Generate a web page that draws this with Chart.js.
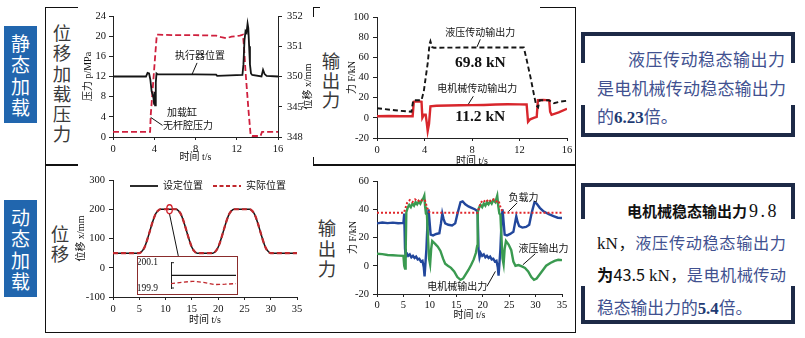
<!DOCTYPE html>
<html>
<head>
<meta charset="utf-8">
<script src="https://cdn.jsdelivr.net/npm/chart.js@4.4.1/dist/chart.umd.min.js"></script>
<style>
  body { margin: 0; background: #fff; }
  #page { position: relative; width: 805px; height: 338px; overflow: hidden; font-family: "Noto Sans CJK SC", sans-serif; }
  .ln { position: absolute; background: #111; }
  .cv { position: absolute; }
  .tag { position: absolute; left: 4px; width: 33px; height: 97px; box-sizing: border-box; padding-top: 5.5px;
         background: #2166ae; color: #fff; font-size: 19px; line-height: 21.5px; text-align: center; }
  .vlab { position: absolute; width: 24px; text-align: center; font-size: 18.5px; line-height: 20.3px; color: #3a3a3a; }
  .br { position: absolute; background: #1d2a47; }
  .note { position: absolute; left: 597px; color: #415190; }
  .nl { width: 189px; overflow: hidden; text-align: justify; text-align-last: justify; }
  .nl.last { text-align-last: left; }
  .ser { font-family: "Liberation Serif", serif; }
  .k { color: #111; }
  .nb { font-family: "Liberation Serif", serif; font-weight: bold; color: #1f3b73; }
  #inset { position: absolute; left: 137px; top: 256px; width: 101px; height: 39px; box-sizing: border-box;
           border: 1px solid #8a2c2c; background: #fff; }
  #c5 { position: absolute; left: 0; top: 0; }
</style>
</head>
<body>
<div id="page">
  <!-- frame -->
  <div class="ln" style="left:45px;top:7px;width:1px;height:326px"></div>
  <div class="ln" style="left:575px;top:7px;width:1px;height:326px"></div>
  <div class="ln" style="left:45px;top:7px;width:33px;height:1px"></div>
  <div class="ln" style="left:313px;top:7px;width:7px;height:1px"></div>
  <div class="ln" style="left:313px;top:7px;width:1px;height:10px"></div>
  <div class="ln" style="left:540px;top:7px;width:36px;height:1px"></div>
  <div class="ln" style="left:45px;top:164px;width:33px;height:1.5px"></div>
  <div class="ln" style="left:313px;top:157px;width:1px;height:8px"></div>
  <div class="ln" style="left:313px;top:164px;width:263px;height:1.5px"></div>
  <div class="ln" style="left:45px;top:332px;width:531px;height:1px"></div>

  <div class="tag" style="top:26px">静<br>态<br>加<br>载</div>
  <div class="tag" style="top:200px">动<br>态<br>加<br>载</div>

  <div class="vlab" style="left:50px;top:22px">位<br>移<br>加<br>载<br>压<br>力</div>
  <div class="vlab" style="left:319px;top:51px;line-height:19.5px">输<br>出<br>力</div>
  <div class="vlab" style="left:48px;top:223px">位<br>移</div>
  <div class="vlab" style="left:315px;top:217px;line-height:20.5px">输<br>出<br>力</div>

  <!-- right text boxes -->
  <div class="br" style="left:581px;top:32px;width:214px;height:4px"></div>
  <div class="br" style="left:581px;top:32px;width:4px;height:31px"></div>
  <div class="br" style="left:791px;top:32px;width:4px;height:31px"></div>
  <div class="br" style="left:581px;top:133px;width:214px;height:4px"></div>
  <div class="br" style="left:581px;top:105px;width:4px;height:32px"></div>
  <div class="br" style="left:791px;top:105px;width:4px;height:32px"></div>
  <div class="note" style="top:45px;font-size:17px;line-height:28.7px">
    <div class="nl" style="padding-left:31px;width:157px">液压传动稳态输出力</div>
    <div class="nl">是电机械传动稳态输出力</div>
    <div class="nl last">的<span class="nb">6.23</span>倍。</div>
  </div>

  <div class="br" style="left:581px;top:183px;width:214px;height:4px"></div>
  <div class="br" style="left:581px;top:183px;width:4px;height:36px"></div>
  <div class="br" style="left:791px;top:183px;width:4px;height:36px"></div>
  <div class="br" style="left:581px;top:320px;width:214px;height:4px"></div>
  <div class="br" style="left:581px;top:286px;width:4px;height:38px"></div>
  <div class="br" style="left:791px;top:286px;width:4px;height:38px"></div>
  <div class="note" style="top:195px;font-size:16.2px;line-height:30.5px">
    <div class="nl last" style="padding-left:30px;width:159px;white-space:nowrap"><span style="font-weight:700;color:#111;font-size:15px">电机械稳态输出力</span><span class="ser k" style="font-size:18px;letter-spacing:2.5px;margin-left:2px">9.8</span></div>
    <div class="nl"><span class="ser k" style="font-size:17px">kN</span><span class="k">，</span>液压传动稳态输出力</div>
    <div class="nl"><span class="k" style="font-weight:700">为</span><span class="k">43.5 <span class="ser" style="font-size:17px">kN</span>，</span>是电机械传动</div>
    <div class="nl last" style="font-size:16.8px">稳态输出力的<span class="nb">5.4</span>倍。</div>
  </div>

  <div class="cv" style="left:78px;top:0;width:235px;height:166px"><canvas id="c1"></canvas></div>
  <div class="cv" style="left:340px;top:0;width:240px;height:168px"><canvas id="c2"></canvas></div>
  <div class="cv" style="left:70px;top:168px;width:243px;height:160px"><canvas id="c3"></canvas></div>
  <div class="cv" style="left:340px;top:168px;width:240px;height:154px"><canvas id="c4"></canvas></div>
  <div id="inset"><canvas id="c5" width="99" height="37" style="width:99px;height:37px"></canvas></div>
</div>

<script>
// ---------- 静态加载：位移 / 加载缸压力 ----------
const actuatorPos = [[0, 350.0], [3.2, 350.0], [3.35, 350.12], [3.5, 350.1], [3.62, 349.9], [3.75, 349.5],
  [3.85, 349.4], [3.92, 349.3], [3.98, 349.1], [4.03, 349.5], [4.08, 349.05], [4.15, 349.8], [4.22, 350.1],
  [4.35, 350.07], [6, 350.07], [8, 350.07], [10, 350.06], [10.1, 350.02], [12.55, 350.05], [12.65, 350.4],
  [12.75, 351.2], [12.85, 351.5], [12.95, 351.45], [13.05, 351.75], [13.12, 351.6], [13.2, 351.0],
  [13.28, 350.4], [13.38, 350.1], [13.5, 350.05], [14.4, 350.0], [14.55, 350.22], [14.7, 350.08],
  [14.9, 350.02], [16, 350.0]];
const cylinderPressure = [[0, 1.0], [3.6, 1.0], [3.66, 4.4], [3.75, 6.8], [3.9, 10.9], [4.1, 16.4],
  [4.25, 20.3], [4.4, 20.3], [6, 20.2], [8, 20.2], [10, 20.1], [10.5, 19.8], [11, 19.6], [11.5, 19.9],
  [12.3, 20.1], [12.6, 20.3], [12.7, 18], [12.85, 13], [13.0, 9], [13.15, 5], [13.35, 0.3], [13.5, 0.2],
  [14.3, 0.2], [14.45, 1.0], [16, 1.0]];
const posTickLabels = ['348', '345', '350', '351', '352'];

// ---------- 静态加载：输出力 ----------
const hydraulicOut = [[0, 9.5], [1.5, 7.5], [2.9, 6], [3.05, 17.5], [3.75, 17.5], [3.95, 27], [4.1, 40],
  [4.28, 55], [4.42, 73], [4.5, 76], [4.65, 70], [4.8, 69.5], [8, 69.8], [12.36, 69.8], [12.58, 58.8],
  [12.92, 40.6], [13.2, 24], [13.4, 12.5], [13.57, 10.5], [13.7, 17.5], [14.45, 17.5], [14.9, 14.5],
  [15.4, 16], [16, 17]];
const motorOut = [[0, 1.5], [1, 1.8], [2, 1.5], [3.0, 1.6], [3.1, 16], [3.4, 16.5], [3.75, 16], [3.82, 0],
  [3.95, 3], [4.1, 3], [4.18, -4], [4.27, -13], [4.38, -6], [4.5, 11.5], [5, 12], [6, 12.2], [7, 12.5],
  [8, 12.6], [9, 12.8], [10, 13.2], [11, 13.4], [12, 13.3], [12.6, 13.2], [12.72, -4], [12.9, -1.5],
  [13.2, 0], [13.45, 1], [13.55, 17.5], [14, 17.8], [14.5, 17.3], [14.58, 6], [14.7, 3], [15.3, 5.5], [16, 9]];

// ---------- 动态加载：位移 ----------
const setPosition = [[0, 50], [5, 50], [5.5, 56], [6, 70], [8, 180], [8.5, 194], [9, 200], [12, 200],
  [12.5, 194], [13, 180], [15, 70], [15.5, 56], [16, 50], [19, 50], [19.5, 56], [20, 70], [22, 180],
  [22.5, 194], [23, 200], [26, 200], [26.5, 194], [27, 180], [29, 70], [29.5, 56], [30, 50], [35, 50]];
const actualPosition = [[0, 50], [5, 50], [5.5, 56], [6, 70], [8, 180], [8.5, 194], [9, 200], [12, 200],
  [12.5, 194], [13, 180], [15, 70], [15.5, 56], [16, 50], [19, 50], [19.5, 56], [20, 70], [22, 180],
  [22.5, 194], [23, 200], [26, 200], [26.5, 194], [27, 180], [29, 70], [29.5, 56], [30, 50], [35, 50]];
const insetSet = [[0, 200.0], [6, 200.0]];
const insetActual = [[0, 199.935], [1, 199.945], [2, 199.953], [3, 199.945], [4, 199.927], [5, 199.93], [6, 199.935]];
const insetTicks = [199.9, 200.1];
const insetTickLabels = ['199.9', '200.1'];

// ---------- 动态加载：输出力 ----------
const loadForce = [[0, 37.5], [5.1, 37.5], [5.4, 41], [5.7, 44.5], [6.2, 46.5], [6.7, 45], [7.2, 47],
  [7.7, 45.5], [8.2, 47], [8.7, 45.5], [9.1, 46], [9.5, 41], [9.9, 38], [10.3, 37.5], [19.0, 37.5],
  [19.3, 41], [19.6, 44.5], [20.1, 46.5], [20.6, 45], [21.1, 47], [21.6, 45.5], [22.1, 47], [22.6, 45.5],
  [23.0, 46], [23.4, 41], [23.8, 38], [24.2, 37.5], [35, 37.5]];
const hydraulicForce = [[0, 8.5], [1, 8.2], [2, 7.6], [3, 7.4], [4, 7.2], [5.0, 7.0], [5.15, 0], [5.3, -2],
  [5.42, 10], [5.55, 38], [5.8, 41], [6.1, 43], [6.4, 41.5], [6.7, 44], [7.0, 42.5], [7.3, 45], [7.6, 43.5],
  [7.9, 45.5], [8.2, 44], [8.5, 46.5], [8.8, 48], [8.95, 49.5], [9.1, 42], [9.25, 37], [9.45, 36],
  [9.65, 20], [9.85, 5], [10.05, 1], [10.25, 12], [10.45, 17.5], [11, 15.5], [11.5, 13.5], [12, 10.5],
  [12.5, 5], [12.9, 1.5], [13.4, 0], [14, -1.5], [14.6, -4], [15.2, -8], [15.8, -10], [16.3, -9],
  [16.8, -6], [17.3, -3], [17.8, 0.5], [18.3, 4.5], [18.7, 9], [18.95, 14], [19.05, 38], [19.3, 41],
  [19.6, 43], [19.9, 41.5], [20.2, 44], [20.5, 42.5], [20.8, 45], [21.1, 43.5], [21.4, 45.5], [21.7, 44],
  [22.0, 46.5], [22.4, 45], [22.75, 49.5], [22.95, 42], [23.15, 37], [23.35, 36], [23.55, 20], [23.75, 5],
  [23.95, 1], [24.15, 12], [24.4, 17.5], [24.9, 15], [25.4, 11], [25.8, 3], [26.2, 0], [26.8, 0.5],
  [27.4, -0.5], [28, -1.5], [28.6, -4], [29.2, -8], [29.7, -10], [30.2, -9], [30.8, -6], [31.4, -3],
  [32, 0], [32.8, 2], [33.6, 3.5], [34.3, 4.2], [35, 4]];
const motorForce = [[0, 30], [1, 30.6], [2, 30.2], [3, 30.5], [4, 30.1], [5.0, 30.3], [5.15, 37], [5.3, 12],
  [5.45, 6], [5.6, 9], [5.9, 7], [6.2, 8], [6.5, 6], [6.8, 7], [7.1, 5.5], [7.4, 6.5], [7.7, 4.5], [8.0, 5],
  [8.3, 3], [8.6, 3.5], [8.85, -1], [9.0, -7.5], [9.15, 1], [9.35, 12], [9.55, 30], [9.75, 40], [9.95, 31],
  [10.15, 22], [10.6, 21.5], [11.2, 22.5], [11.8, 23], [12.1, 30], [12.35, 37], [12.6, 33], [12.9, 30],
  [13.5, 29], [14.2, 28.5], [14.8, 30], [15.3, 38], [15.8, 45], [16.2, 45.5], [16.7, 43.5], [17.3, 42],
  [17.9, 41], [18.5, 40], [18.9, 39], [19.05, 36], [19.2, 12], [19.4, 6], [19.6, 9], [19.9, 7], [20.2, 8],
  [20.5, 6], [20.8, 7], [21.1, 5.5], [21.4, 6.5], [21.7, 4.5], [22.0, 5], [22.3, 3], [22.6, 3.5],
  [22.85, -1], [23.0, -7], [23.15, 1], [23.35, 12], [23.55, 30], [23.75, 40], [23.95, 31], [24.15, 22],
  [24.6, 21.5], [25.2, 22.5], [25.8, 24], [26.1, 30], [26.35, 35], [26.6, 31], [26.9, 28], [27.5, 27],
  [28.2, 27.5], [28.8, 29], [29.3, 38], [29.8, 45], [30.2, 44], [30.8, 41], [31.5, 38.5], [32.5, 36.5],
  [33.5, 35], [34.2, 34], [35, 33.8]];

const FONT = '"Liberation Serif", "Noto Sans CJK SC", serif';
Chart.defaults.font.family = FONT;
Chart.defaults.font.size = 10.5;
Chart.defaults.color = '#111';
Chart.defaults.animation = false;

function axis(o) {
  const a = {
    type: 'linear', position: o.position, min: o.min, max: o.max,
    display: o.display === undefined ? true : o.display,
    afterFit: s => { if (o.width !== undefined) s.width = o.width; else s.height = o.height; },
    ticks: { stepSize: o.step, padding: o.pad, color: '#111', maxRotation: 0, autoSkip: false, font: { size: o.fontSize || 10.5 } },
    grid: { drawOnChartArea: false, drawTicks: o.tl > 0, tickLength: o.tl, color: '#222', tickColor: o.tickColor || '#222' },
    border: { display: true, color: '#222', width: 1 },
    title: { display: !!o.title, text: o.title, font: { size: 10 }, color: '#111', padding: o.titlePad || 0 }
  };
  if (o.cb) a.ticks.callback = o.cb;
  if (o.fixed) a.afterBuildTicks = s => { s.ticks = o.fixed.map(v => ({ value: v })); };
  return a;
}

function line(pairs, color, width, dash, yAxisID) {
  return {
    data: pairs.map(p => ({ x: p[0], y: p[1] })),
    borderColor: color, borderWidth: width, borderDash: dash || [],
    pointRadius: 0, fill: false, tension: 0, yAxisID: yAxisID || 'y'
  };
}

// annotations, leader lines, legend and side title drawn on top of the plot
const notesPlugin = {
  id: 'notes',
  afterDatasetsDraw(chart, args, opts) {
    const { ctx, scales, chartArea } = chart;
    const px = (p, ax) => [scales.x.getPixelForValue(p[0]), scales[ax || 'y'].getPixelForValue(p[1])];
    ctx.save();
    (opts.lines || []).forEach(l => {
      const a = px(l.from), b = px(l.to);
      ctx.strokeStyle = '#111';
      ctx.lineWidth = 1;
      ctx.beginPath(); ctx.moveTo(a[0], a[1]); ctx.lineTo(b[0], b[1]); ctx.stroke();
    });
    (opts.rings || []).forEach(r => {
      const c = px(r.at);
      ctx.strokeStyle = r.color; ctx.lineWidth = 1.3;
      ctx.beginPath(); ctx.ellipse(c[0], c[1], r.rx, r.ry, 0, 0, Math.PI * 2); ctx.stroke();
    });
    (opts.texts || []).forEach(t => {
      const c = px(t.at);
      ctx.font = t.font || ('10px ' + FONT);
      ctx.fillStyle = '#111';
      ctx.textAlign = 'center'; ctx.textBaseline = 'middle';
      ctx.fillText(t.text, c[0], c[1]);
    });
    // small inward ticks on the inset axis
    (opts.innerTicks || []).forEach(v => {
      const y = scales.y.getPixelForValue(v);
      ctx.strokeStyle = '#222'; ctx.lineWidth = 1;
      ctx.beginPath(); ctx.moveTo(chartArea.left, y); ctx.lineTo(chartArea.left + 3, y); ctx.stroke();
    });
    if (opts.legend) {
      const lg = opts.legend;
      let x = chartArea.left + lg.dx;
      const y = chartArea.top + lg.dy;
      ctx.font = '10px ' + FONT;
      ctx.textAlign = 'left'; ctx.textBaseline = 'middle';
      lg.items.forEach(it => {
        ctx.strokeStyle = it.color; ctx.lineWidth = it.width; ctx.setLineDash(it.dash);
        ctx.beginPath(); ctx.moveTo(x, y); ctx.lineTo(x + lg.sample, y); ctx.stroke();
        ctx.setLineDash([]);
        ctx.fillStyle = '#111';
        ctx.fillText(it.text, x + lg.sample + 5, y);
        x += lg.sample + 5 + ctx.measureText(it.text).width + lg.spacing;
      });
    }
    if (opts.sideTitle) {
      const st = opts.sideTitle;
      ctx.translate(chartArea.right + st.dx, (chartArea.top + chartArea.bottom) / 2 + st.dy);
      ctx.rotate(-Math.PI / 2);
      ctx.font = '10px ' + FONT;
      ctx.fillStyle = '#111';
      ctx.textAlign = 'center'; ctx.textBaseline = 'middle';
      ctx.fillText(st.text, 0, 0);
    }
    ctx.restore();
  }
};

function baseOptions(padding, scales, notes, responsive) {
  return {
    responsive: responsive !== false, maintainAspectRatio: false, animation: false,
    layout: { padding },
    scales,
    plugins: { legend: { display: false }, tooltip: { enabled: false }, notes }
  };
}

// chart 1
new Chart(document.getElementById('c1'), {
  type: 'line',
  data: { datasets: [
    line(actuatorPos, '#151515', 1.8, [], 'y2'),
    line(cylinderPressure, '#cf1f3d', 1.8, [6, 3], 'y')
  ] },
  options: baseOptions({ top: 16, left: 0, right: 0, bottom: 0 }, {
    x: axis({ position: 'bottom', min: 0, max: 16, step: 4, height: 29, tl: 3, pad: 3, title: '时间 t/s', titlePad: { top: 0, bottom: 3 } }),
    y: axis({ position: 'left', min: 0, max: 24, step: 4, width: 35, tl: 4, pad: 3, title: '压力 p/MPa', titlePad: { top: 4, bottom: 0 } }),
    y2: axis({ position: 'right', min: 348, max: 352, step: 1, width: 35, tl: 4, pad: 5, cb: v => posTickLabels[v - 348] })
  }, {
    texts: [
      { text: '执行器位置', at: [8.44, 15.9] },
      { text: '加载缸', at: [6.69, 4.76] },
      { text: '无杆腔压力', at: [7.27, 2.18] }
    ],
    lines: [
      { from: [8.15, 14.7], to: [7.66, 12.4] },
      { from: [4.8, 2.3], to: [3.65, 3.9] }
    ],
    sideTitle: { text: '位移 x/mm', dx: 30, dy: 10 }
  }),
  plugins: [notesPlugin]
});

// chart 2
new Chart(document.getElementById('c2'), {
  type: 'line',
  data: { datasets: [
    line(hydraulicOut, '#151515', 1.9, [5, 3]),
    line(motorOut, '#d8262c', 2.4)
  ] },
  options: baseOptions({ top: 17, left: 0, right: 13, bottom: 0 }, {
    x: axis({ position: 'bottom', min: 0, max: 16, step: 4, height: 30, tl: 3, pad: 3, title: '时间 t/s', titlePad: { top: 0, bottom: 1 } }),
    y: axis({ position: 'left', min: -20, max: 100, step: 20, width: 37, tl: 4, pad: 4, title: '力 F/kN', titlePad: { top: 6, bottom: 0 } })
  }, {
    texts: [
      { text: '液压传动输出力', at: [8.7, 83.9] },
      { text: '69.8 kN', at: [8.7, 54.2], font: 'bold 15.5px ' + FONT },
      { text: '电机械传动输出力', at: [8.45, 28.3] },
      { text: '11.2 kN', at: [8.7, 0.6], font: 'bold 15.5px ' + FONT }
    ],
    lines: [
      { from: [8.7, 77.9], to: [8.42, 70.3] },
      { from: [8.11, 21.4], to: [7.69, 13.5] }
    ]
  }),
  plugins: [notesPlugin]
});

// chart 3
new Chart(document.getElementById('c3'), {
  type: 'line',
  data: { datasets: [
    Object.assign(line(actualPosition, '#c0282d', 2.2, [5, 3]), { cubicInterpolationMode: 'monotone' }),
    Object.assign(line(setPosition, '#151515', 1.5), { cubicInterpolationMode: 'monotone' })
  ] },
  options: baseOptions({ top: 12, left: 0, right: 16, bottom: 0 }, {
    x: axis({ position: 'bottom', min: 0, max: 35, step: 5, height: 31, tl: 3, pad: 3, title: '时间 t/s', titlePad: { top: 0, bottom: 2 } }),
    y: axis({ position: 'left', min: -100, max: 300, step: 100, width: 43, tl: 4, pad: 4, title: '位移 x/mm', titlePad: { top: 5, bottom: 0 } })
  }, {
    rings: [{ at: [10.75, 200], rx: 2.8, ry: 4.5, color: '#d0202a' }],
    lines: [{ from: [10.75, 184], to: [12.42, 40.4] }],
    legend: {
      dx: 17, dy: 6, sample: 28, spacing: 10,
      items: [
        { text: '设定位置', color: '#151515', width: 1.8, dash: [] },
        { text: '实际位置', color: '#c0282d', width: 2, dash: [4, 2.5] }
      ]
    }
  }),
  plugins: [notesPlugin]
});

// inset of chart 3 (zoom on the 200 mm plateau)
new Chart(document.getElementById('c5'), {
  type: 'line',
  data: { datasets: [
    line(insetSet, '#151515', 1.3),
    line(insetActual, '#c0282d', 1.3, [4, 2.5])
  ] },
  options: baseOptions({ top: 5, left: 0, right: 1, bottom: 6 }, {
    x: axis({ position: 'bottom', min: 0, max: 6, display: false, height: 0, tl: 0, pad: 0 }),
    y: axis({ position: 'left', min: 199.9, max: 200.1, width: 33, tl: 13, pad: 0, fontSize: 9.5,
              tickColor: 'rgba(0,0,0,0)', fixed: insetTicks, cb: (v, i) => insetTickLabels[i] })
  }, { innerTicks: insetTicks }, false),
  plugins: [notesPlugin]
});

// chart 4
new Chart(document.getElementById('c4'), {
  type: 'line',
  data: { datasets: [
    line(loadForce, '#e0262b', 2, [2, 2]),
    line(hydraulicForce, '#3a9a50', 2.4),
    line(motorForce, '#22479c', 2.4)
  ] },
  options: baseOptions({ top: 13, left: 0, right: 18, bottom: 0 }, {
    x: axis({ position: 'bottom', min: 0, max: 35, step: 5, height: 28, tl: 3, pad: 2, title: '时间 t/s', titlePad: { top: 0, bottom: 1 } }),
    y: axis({ position: 'left', min: -20, max: 60, step: 20, width: 37, tl: 4, pad: 4, title: '力 F/kN', titlePad: { top: 7, bottom: 0 } })
  }, {
    texts: [
      { text: '负载力', at: [27.7, 48] },
      { text: '液压输出力', at: [31.5, 11.3] },
      { text: '电机械输出力', at: [15.2, -15.3] }
    ],
    lines: [
      { from: [26.5, 44.5], to: [24.85, 38.3] },
      { from: [29.95, 8.5], to: [27.6, 0.7] },
      { from: [20.8, -14.6], to: [22.4, -4.0] }
    ]
  }),
  plugins: [notesPlugin]
});
</script>
</body>
</html>
